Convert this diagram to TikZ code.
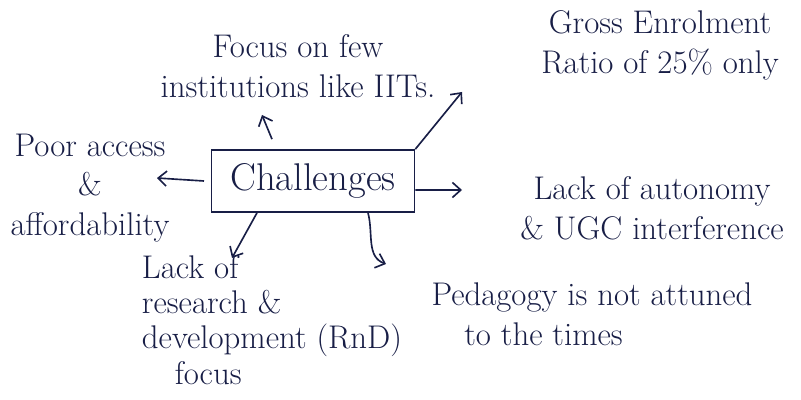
\documentclass[tikz,border=0pt]{standalone}
\usepackage{tikz}
\usetikzlibrary{arrows.meta,positioning}
\definecolor{ink}{RGB}{24,30,70}
\tikzset{
  note/.style={align=center,text=ink,font=\fontsize{28}{34}\selectfont,inner sep=2pt},
  hub/.style={draw=ink,line width=1.4pt,text=ink,font=\fontsize{33}{38}\selectfont,minimum width=6.09cm,minimum height=1.86cm,inner sep=0pt},
  arr/.style={-{Straight Barb[length=2.5mm,width=4.5mm]},line width=1.4pt,draw=ink},
}
\begin{document}
\begin{tikzpicture}[x=0.03cm,y=-0.03cm]
\useasboundingbox (0,0) rectangle (801,400);
\node[hub] (ch) at (313,181) {Challenges};
\node[note] (foc) at (298,66) {Focus on few\\institutions like IITs.};
\node[note] (ger) at (660,45) {Gross Enrolment\\Ratio of 25\% only};
\node[note] (poor) at (90,188) {Poor access\\\&\\affordability};
\node[note] (aut) at (652,208) {Lack of autonomy\\\& UGC interference};
\node[note,align=left,font=\fontsize{28}{30}\selectfont] (rnd) at (272,320) {Lack of\\research \&\\development (RnD)\\\quad focus};
\node[note,align=left] (ped) at (592,314) {Pedagogy is not attuned\\\quad to the times};
\coordinate (tfoc) at (262,115);
\coordinate (tger) at (462,92);
\coordinate (taut) at (462,190);
\coordinate (tpoor) at (157,178);
\coordinate (trnd) at (232,258);
\coordinate (tped) at (386,264);
\draw[arr] ([xshift=-1.23cm,yshift=0.3cm]ch.north) -- (tfoc);
\draw[arr] (ch.north east) -- (tger);
\draw[arr] ([yshift=-0.27cm]ch.east) -- (taut);
\draw[arr] ([xshift=-0.2cm]ch.west) -- (tpoor);
\draw[arr] ([xshift=-1.68cm]ch.south) -- (trnd);
\draw[arr] ([xshift=1.65cm]ch.south) to[out=-75,in=160] (tped);
\end{tikzpicture}
\end{document}
